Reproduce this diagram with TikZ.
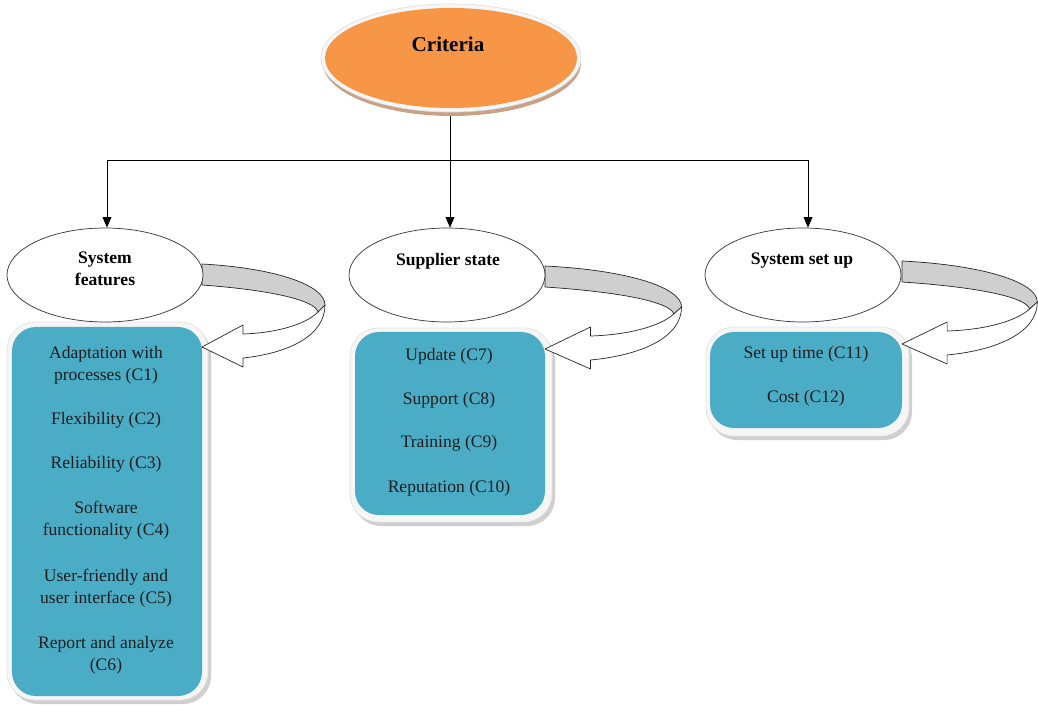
\documentclass[tikz,border=0pt]{standalone}
\usepackage{fontspec}
\setmainfont{Liberation Serif}
\usetikzlibrary{shapes.geometric,arrows.meta}
\definecolor{critorange}{HTML}{F79646}
\definecolor{critbrown}{HTML}{C9A184}
\definecolor{boxteal}{HTML}{4BACC6}
\definecolor{bandgray}{HTML}{CFCFCF}
\definecolor{txtdark}{HTML}{1E1E1E}
\newcommand\loopArrow[3]{%
  \begin{scope}[shift={(#1,#3)},xscale=#2]
    \draw[band] (0,264) .. controls (73,268) and (123,285) .. (123,305)
      -- (116,312) .. controls (113,300) and (68,290) .. (0,285) -- cycle;
    \draw[whitearrow] (123,305) .. controls (123,335) and (88,353) .. (41,358)
      -- (41,367) -- (0,347) -- (41,325) -- (41,334)
      .. controls (73,333) and (103,325) .. (116,312) -- cycle;
  \end{scope}}
\begin{document}
\begin{tikzpicture}[x=0.03cm,y=-0.03cm,
  mainline/.style={line width=0.8pt,black},
  arr/.style={mainline,-{Triangle[length=9pt,width=7.5pt]}},
  ell/.style={ellipse,draw=black!80,line width=0.6pt,fill=white,
    minimum width=5.88cm,minimum height=2.82cm,inner sep=0pt},
  head/.style={font=\fontsize{15}{18.7}\selectfont\bfseries,align=center},
  item/.style={font=\fontsize{15}{18.7}\selectfont,text=txtdark,align=center},
  tealbox/.style={rectangle,rounded corners=0.72cm,fill=boxteal,inner sep=0pt},
  rim/.style={rounded corners=0.84cm,fill=gray!7,draw=gray!22,line width=0.6pt},
  shade/.style={rounded corners=0.84cm,fill=gray!38},
  band/.style={fill=bandgray,draw=black!85,line width=0.6pt,line join=round},
  whitearrow/.style={fill=white,draw=black!85,line width=0.6pt,line join=round}]
\useasboundingbox (0,0) rectangle (1038,708);

% Criteria
\node[ellipse,fill=critbrown,minimum width=7.74cm,minimum height=3.18cm,inner sep=0pt] (critshadow) at (452,63) {};
\node[ellipse,fill=gray!6,draw=gray!25,line width=0.6pt,minimum width=7.8cm,minimum height=3.24cm,inner sep=0pt] (critrim) at (451,58) {};
\node[ellipse,fill=critorange,minimum width=7.56cm,minimum height=3cm,inner sep=0pt] (crit) at (451,58) {};
\node[font=\fontsize{18}{22}\selectfont\bfseries] (crittext) at (448,44) {Criteria};

% tree connectors
\coordinate (hub) at (450,160);
\coordinate (j1) at (107,160);
\coordinate (j2) at (450,160);
\coordinate (j3) at (808,160);

% boxes
\fill[shade] (10,326) rectangle (211,704);
\draw[rim] (7,322) rectangle (208,700);
\node[tealbox,minimum width=5.7cm,minimum height=11.07cm] (b1) at (107,511.5) {};
\fill[shade] (353,332) rectangle (555,526);
\draw[rim] (350,328) rectangle (552,522);
\node[tealbox,minimum width=5.7cm,minimum height=5.49cm] (b2) at (450,423.5) {};
\fill[shade] (709,331) rectangle (912,440);
\draw[rim] (706,327) rectangle (909,436);
\node[tealbox,minimum width=5.76cm,minimum height=2.88cm] (b3) at (806,380) {};

% loop arrows
\loopArrow{202}{1}{0}
\loopArrow{545}{1.11}{2}
\loopArrow{902}{1.1}{-3}

% ellipses
\node[ell] (e1) at (105,275) {};
\node[ell] (e2) at (447,275) {};
\node[ell] (e3) at (803,275) {};
\node[head] (h1) at (105,269) {System\\features};
\node[head] (h2) at (448,261) {Supplier state};
\node[head] (h3) at (802,261) {System set up};

\draw[mainline] (hub |- critshadow.south) -- (hub);
\draw[mainline] (j1) -- (j3);
\draw[arr] (j1) -- (j1 |- e1.north);
\draw[arr] (j2) -- (j2 |- e2.north);
\draw[arr] (j3) -- (j3 |- e3.north);

% items
\node[item] (t1) at (106,365) {Adaptation with\\processes (C1)};
\node[item] (t2) at (106,420) {Flexibility (C2)};
\node[item] (t3) at (106,464) {Reliability (C3)};
\node[item] (t4) at (106,520) {Software\\functionality (C4)};
\node[item] (t5) at (106,588) {User-friendly and\\user interface (C5)};
\node[item] (t6) at (106,655) {Report and analyze\\(C6)};
\node[item] (t7) at (449,356) {Update (C7)};
\node[item] (t8) at (449,400) {Support (C8)};
\node[item] (t9) at (449,443) {Training (C9)};
\node[item] (t10) at (449,488) {Reputation (C10)};
\node[item] (t11) at (806,354) {Set up time (C11)};
\node[item] (t12) at (806,398) {Cost (C12)};
\end{tikzpicture}
\end{document}
